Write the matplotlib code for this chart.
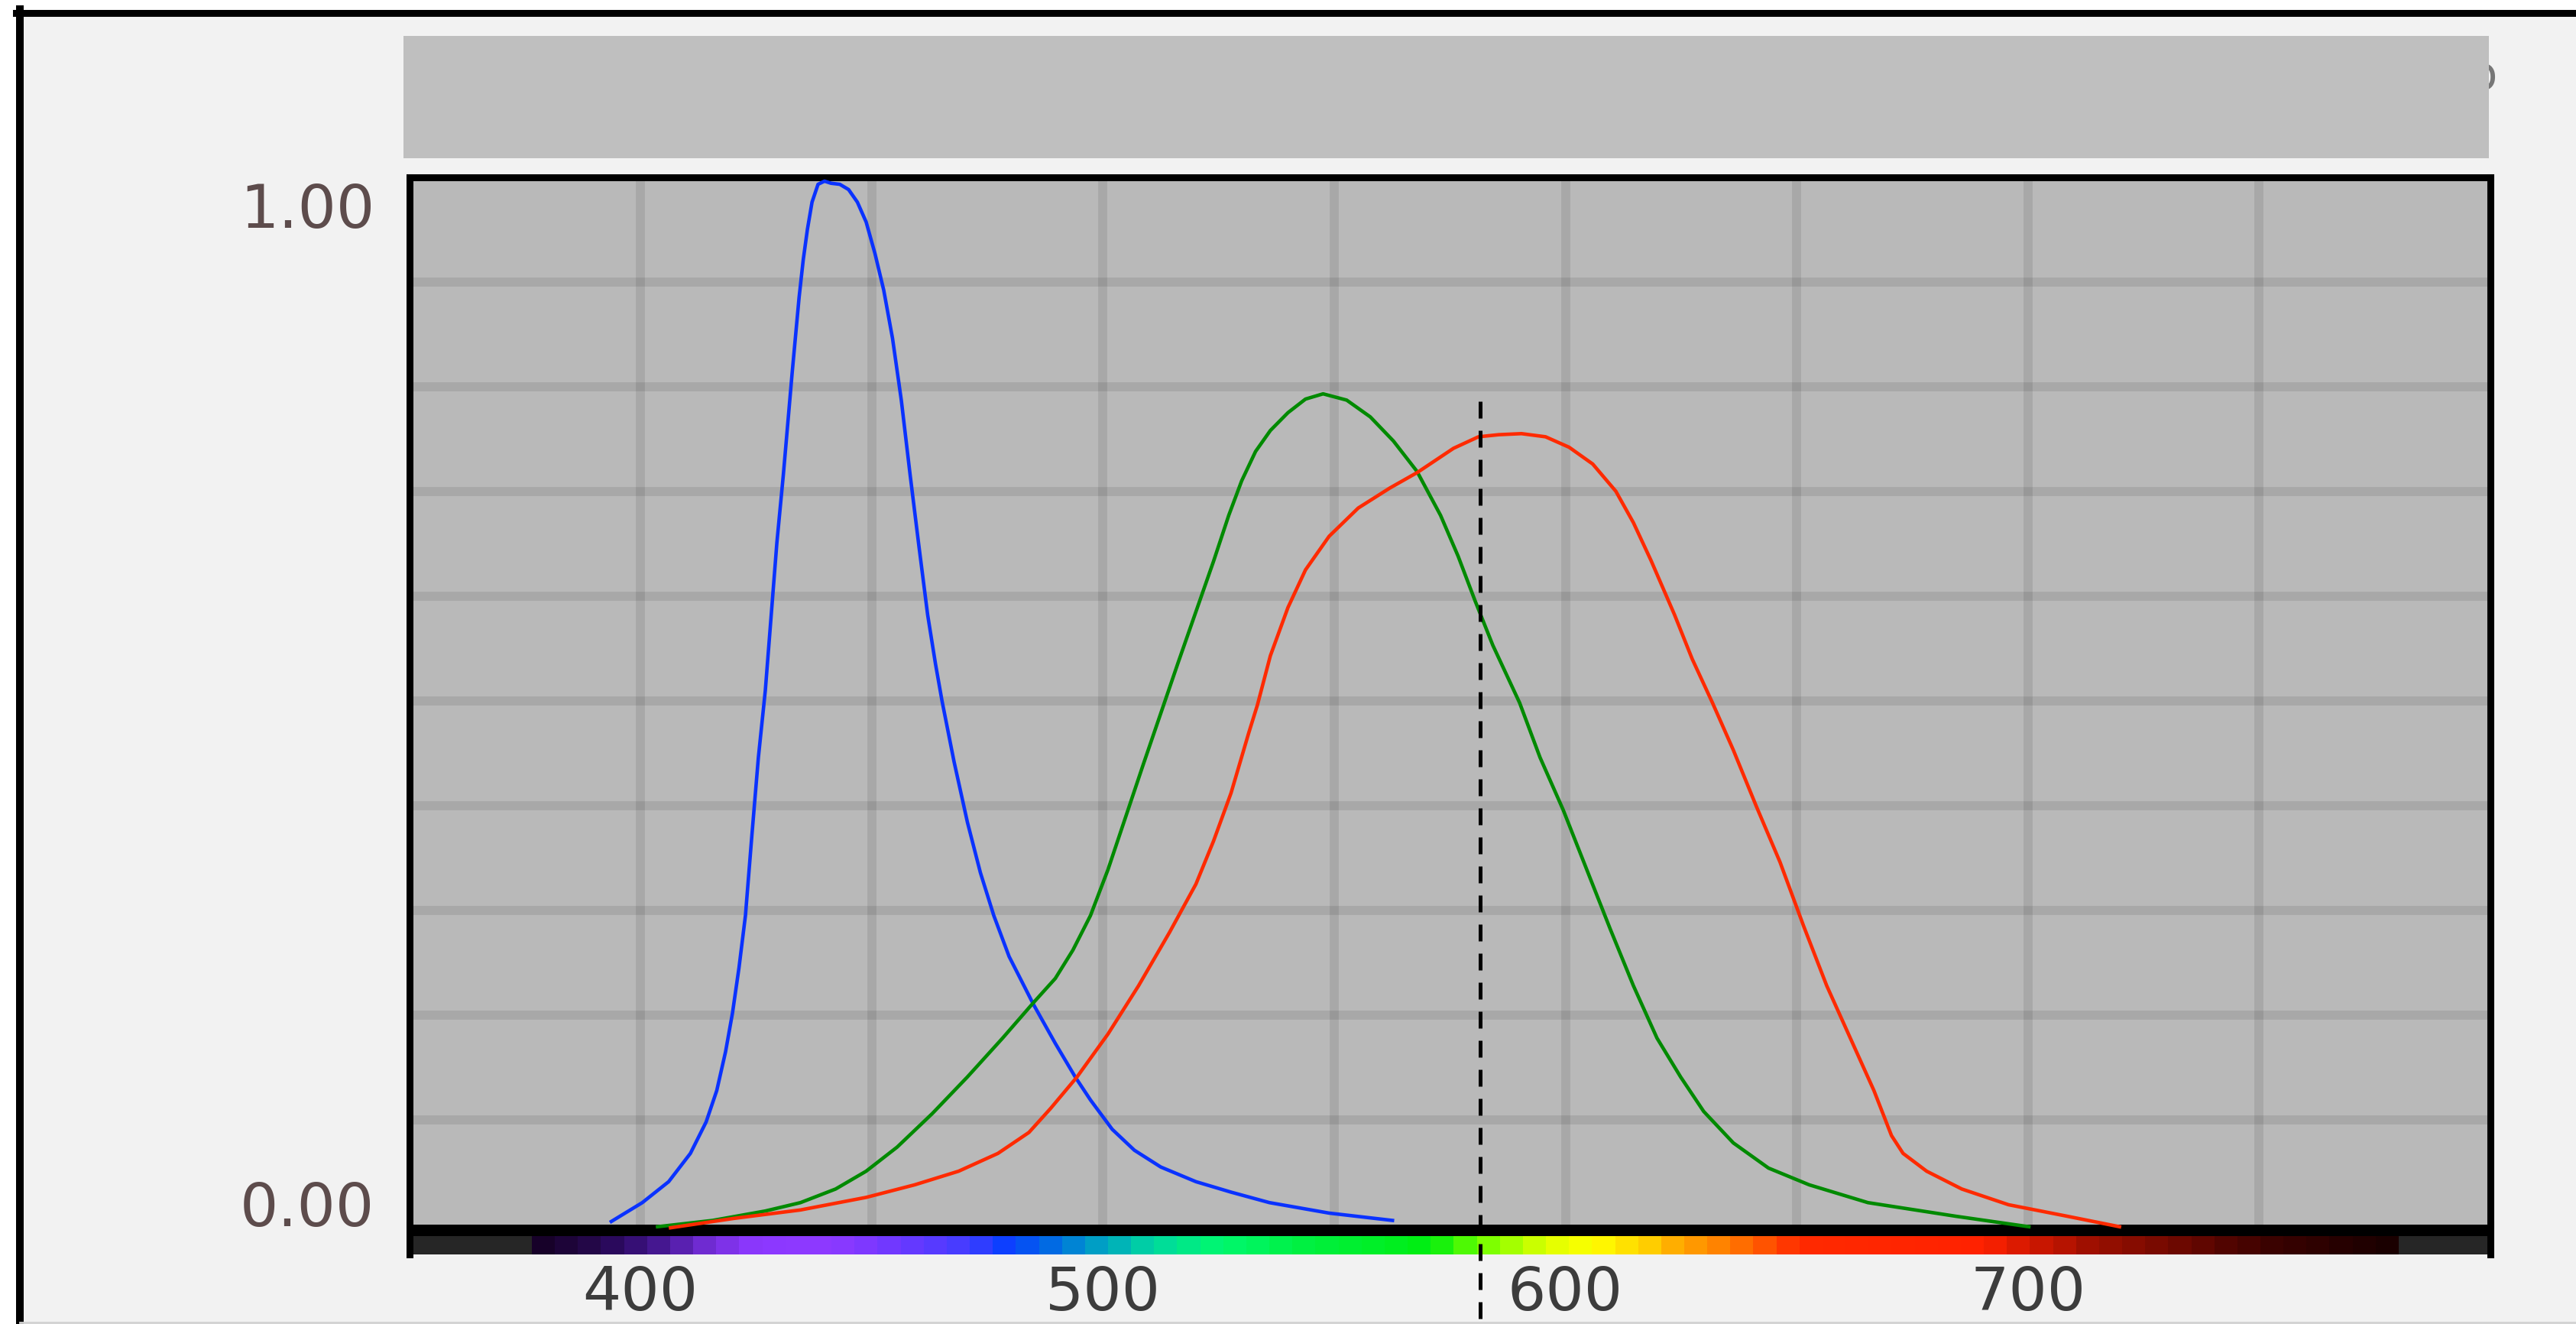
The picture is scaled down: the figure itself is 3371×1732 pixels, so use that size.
import numpy as np
import matplotlib
matplotlib.use("Agg")
import matplotlib.pyplot as plt
from matplotlib.patches import Rectangle
from matplotlib.lines import Line2D
from matplotlib.colors import LinearSegmentedColormap

W, H = 3371, 1733  # output size in pixels (dpi 100)

# cone response curves: wavelength (nm) and relative response
s_nm = [393.7, 400.4, 406.1, 410.8, 414.2, 416.5, 418.4, 419.9, 421.3, 422.7, 424.1, 425.5,
        427.0, 429.5, 430.9, 432.8, 434.3, 435.2, 436.1, 437.1, 438.4, 439.8, 441.2, 443.1,
        445.0, 446.9, 448.8, 450.7, 452.6, 454.5, 456.4, 458.3, 460.2, 462.1, 463.8, 465.2,
        467.8, 470.7, 473.5, 476.4, 479.7, 485.0, 489.7, 494.0, 497.3, 502.0, 506.8,
        512.5, 520.1, 527.7, 536.0, 548.9, 562.6]
s_val = [0.003, 0.021, 0.041, 0.068, 0.098, 0.128, 0.165, 0.202, 0.245, 0.295, 0.372, 0.446,
         0.510, 0.651, 0.716, 0.813, 0.885, 0.921, 0.950, 0.976, 0.993, 0.996, 0.994, 0.993,
         0.988, 0.976, 0.957, 0.927, 0.892, 0.846, 0.787, 0.716, 0.648, 0.582, 0.535, 0.500,
         0.442, 0.384, 0.336, 0.295, 0.256, 0.210, 0.173, 0.141, 0.119, 0.091, 0.071,
         0.055, 0.041, 0.031, 0.021, 0.011, 0.004]

m_nm = [403.7, 415.6, 427.0, 434.6, 442.2, 448.8, 455.5, 463.1, 470.7, 478.3, 485.0, 489.7,
        493.5, 497.3, 501.1, 504.9, 508.7, 512.5, 516.3, 520.1, 523.9, 527.2, 530.0, 533.0,
        536.2, 540.0, 543.8, 547.6, 552.7, 557.8, 562.8, 567.9, 573.0, 576.8, 580.5,
        584.3, 590.1, 594.5, 599.5, 604.6, 609.7, 614.7, 619.8, 624.9, 629.9, 636.3, 643.9,
        652.7, 665.4, 684.4, 700.2]
m_val = [-0.002, 0.004, 0.013, 0.021, 0.034, 0.051, 0.074, 0.106, 0.141, 0.178, 0.212, 0.235,
         0.262, 0.295, 0.339, 0.389, 0.439, 0.488, 0.537, 0.585, 0.633, 0.677, 0.710, 0.738,
         0.758, 0.775, 0.788, 0.793, 0.787, 0.771, 0.748, 0.719, 0.677, 0.638, 0.595,
         0.553, 0.498, 0.446, 0.396, 0.339, 0.282, 0.228, 0.178, 0.141, 0.108, 0.078, 0.054,
         0.038, 0.021, 0.008, -0.002]

l_nm = [406.5, 420.3, 434.6, 448.8, 459.3, 468.8, 477.3, 484.0, 488.7, 494.4, 501.1, 507.7,
        514.4, 520.1, 523.9, 527.7, 531.5, 533.4, 536.2, 540.0, 543.8, 548.9, 555.2, 562.0,
        568.0, 575.8, 581.2, 585.6, 590.5, 595.7, 600.8, 605.9, 610.9, 614.7, 618.5, 623.6,
        627.4, 631.8, 636.3, 641.3, 646.4, 651.5, 656.5, 661.6, 666.7, 670.5, 673.0, 678.1,
        685.7, 695.8, 708.5, 719.8]
l_val = [-0.003, 0.006, 0.014, 0.026, 0.038, 0.051, 0.068, 0.088, 0.111, 0.141, 0.182, 0.228,
         0.279, 0.325, 0.366, 0.412, 0.469, 0.496, 0.543, 0.589, 0.625, 0.657, 0.684, 0.703,
         0.718, 0.741, 0.752, 0.754, 0.755, 0.752, 0.742, 0.726, 0.700, 0.670, 0.634, 0.582,
         0.540, 0.498, 0.453, 0.399, 0.346, 0.285, 0.228, 0.178, 0.128, 0.085, 0.068, 0.051,
         0.034, 0.019, 0.008, -0.002]

x_ticks = [400, 500, 600, 700]
x_tick_labels = ["400", "500", "600", "700"]
y_labels = ["1.00", "0.00"]
grid_x = [400, 450, 500, 550, 600, 650, 700, 750]
grid_y = [0.1, 0.2, 0.3, 0.4, 0.5, 0.6, 0.7, 0.8, 0.9]

marker_nm = 581.5   # dashed wavelength marker
marker_top = 0.786

# colour stops of the spectrum strip under the plot
spectrum_stops = [(376.5, "#150025"), (385, "#20063f"), (395, "#2c0a60"), (405, "#4a1a9a"),
                  (415, "#7a30e0"), (425, "#8c38ff"), (440, "#8e3aff"), (455, "#7038ff"),
                  (468, "#4a3cff"), (480, "#0a40ff"), (490, "#0070e0"), (500, "#00a8c0"),
                  (512, "#00d8a0"), (525, "#00f870"), (545, "#00f040"), (572, "#00ee10"),
                  (582, "#70ff00"), (595, "#d8ff00"), (607, "#ffff00"), (618, "#ffd000"),
                  (628, "#ffa000"), (640, "#ff6a00"), (651, "#ff2a00"), (692, "#ff2200"),
                  (702, "#d01800"), (715, "#a01000"), (735, "#6a0800"), (755, "#3a0200"),
                  (780, "#1a0000")]


def fx(px):
    return px / W


def fy(py):
    return 1 - py / H


fig = plt.figure(figsize=(W / 100, H / 100), dpi=100, facecolor="white")

# light panel with black frame on the left and top
fig.add_artist(Rectangle((fx(26), 0), 1, fy(17.5), transform=fig.transFigure,
                         facecolor="#f2f2f2", edgecolor="none", zorder=0))
fig.add_artist(Line2D([fx(26), fx(26)], [fy(13), 0], transform=fig.transFigure,
                      color="black", lw=7.2, zorder=1))
fig.add_artist(Line2D([fx(21), 1], [fy(17.5), fy(17.5)], transform=fig.transFigure,
                      color="black", lw=6.5, zorder=1))
fig.add_artist(Line2D([fx(26), 1], [fy(1731), fy(1731)], transform=fig.transFigure,
                      color="#d2d2d2", lw=2, zorder=1))

# grey title bar, hiding a title text underneath
fig.text(fx(3268), fy(101), "o", ha="right", va="center", fontsize=44,
         color="#777777", zorder=1)
fig.add_artist(Rectangle((fx(528), fy(208)), fx(3257) - fx(528), fy(48) - fy(208),
                         transform=fig.transFigure, facecolor="#bfbfbf",
                         edgecolor="none", zorder=2))

left, right = fx(535.5), fx(3259)
ax = fig.add_axes([left, fy(1603), right - left, fy(232.5) - fy(1603)])
ax.set_zorder(3)
ax.set_facecolor("#b9b9b9")
ax.set_xlim(350, 800)
ax.set_ylim(0, 1)
ax.set_xticks(grid_x)
ax.set_yticks(grid_y)
ax.tick_params(length=0, labelbottom=False, labelleft=False)
ax.grid(True, color="black", alpha=0.09, lw=8.5)
ax.set_axisbelow(True)
for side in ["left", "top", "right"]:
    ax.spines[side].set_linewidth(6.5)
    ax.spines[side].set_color("black")
ax.spines["bottom"].set_visible(False)

ax.plot(s_nm, s_val, color="#0a32ff", lw=3.3, clip_on=False, zorder=4)
ax.plot(m_nm, m_val, color="#008a00", lw=3.3, clip_on=False, zorder=4)
ax.plot(l_nm, l_val, color="#ff2a00", lw=3.3, clip_on=False, zorder=4)

ax.plot([marker_nm, marker_nm], [marker_top, -0.1], color="black", lw=3.6,
        dashes=(4.4, 3.2), clip_on=False, zorder=6)

ax.text(-0.0166, 0.952, y_labels[0], transform=ax.transAxes, ha="right",
        va="baseline", fontsize=57, color="#5d4c4c")
ax.text(-0.0166, -0.001, y_labels[1], transform=ax.transAxes, ha="right",
        va="baseline", fontsize=57, color="#5d4c4c")

# spectrum strip under the plot
ax_sp = fig.add_axes([left, fy(1642), right - left, fy(1603) - fy(1642)])
ax_sp.set_zorder(1)
ax_sp.set_facecolor("#262626")
ax_sp.set_xlim(350, 800)
ax_sp.set_ylim(0, 1)
ax_sp.axhspan(0.615, 1, color="black", lw=0)
stop_nm = [s[0] for s in spectrum_stops]
lo, hi = stop_nm[0], stop_nm[-1]
cmap = LinearSegmentedColormap.from_list(
    "spectrum", [((n - lo) / (hi - lo), c) for n, c in spectrum_stops])
bands = np.arange(lo + 2.5, hi, 5.0)
ax_sp.imshow(bands[np.newaxis, :], cmap=cmap, vmin=lo, vmax=hi, aspect="auto",
             interpolation="nearest", extent=(lo, hi, 0, 0.615))
for side in ["top", "bottom"]:
    ax_sp.spines[side].set_visible(False)
for side in ["left", "right"]:
    ax_sp.spines[side].set_linewidth(6.5)
    ax_sp.spines[side].set_color("black")
ax_sp.set_yticks([])
ax_sp.set_xticks(x_ticks, x_tick_labels)
ax_sp.tick_params(axis="x", length=0, pad=8.5, labelsize=57, labelcolor="#3c3c3c")

fig.savefig("out.png", dpi=100, facecolor=fig.get_facecolor())
